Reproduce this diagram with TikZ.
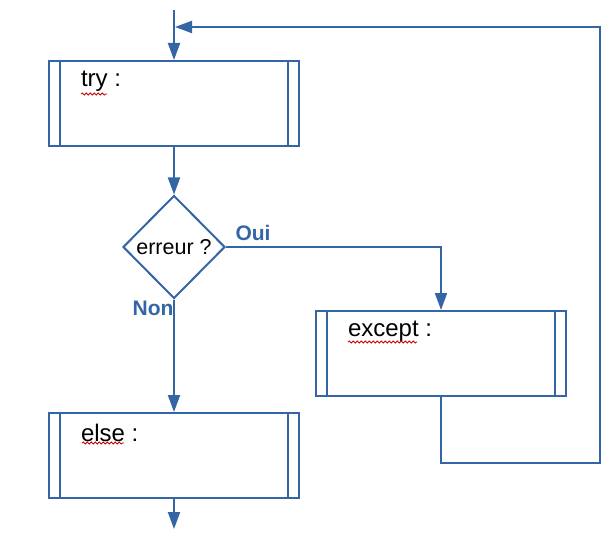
\documentclass[tikz,border=0pt]{standalone}
\usepackage{fontspec}
\setmainfont{Liberation Sans}
\usetikzlibrary{arrows.meta,shapes.geometric,decorations.pathmorphing}
\definecolor{flowblue}{RGB}{52,101,164}

\begin{document}
\begin{tikzpicture}
  [x=1pt,y=-1pt,color=flowblue,line width=2pt,
   >={Triangle[length=17pt,width=12pt]},
   bloc/.style={draw,rectangle,minimum width=250pt,minimum height=85pt,inner sep=0pt},
   test/.style={draw,diamond,aspect=1,minimum width=102pt,minimum height=103pt,inner sep=0pt,
     text=black,font=\fontsize{21.5}{24}\selectfont},
   txt/.style={anchor=west,inner sep=0pt,text=black,font=\fontsize{24}{28}\selectfont},
   rep/.style={inner sep=0pt,font=\bfseries\fontsize{21}{24}\selectfont},
   faute/.style={red!80!black,line width=0.8pt,decorate,
     decoration={snake,amplitude=1pt,segment length=4pt}}]
  \useasboundingbox (0,0) rectangle (611,543);

  \node[bloc] (try) at (174,103.5) {};
  \node[test] (erreur) at (174,247) {erreur ?};
  \node[bloc] (except) at (441,353.5) {};
  \node[bloc] (else) at (174,455.5) {};

  \coordinate (debut) at (174,10);
  \coordinate (fin) at (174,529);
  \coordinate (bas) at (600,463);
  \coordinate (haut) at (600,27);
  \coordinate (entree) at (175,27);

  % double side bars of the process boxes
  \foreach \b in {try,except,else} {
    \draw ([xshift=12pt]\b.north west) -- ([xshift=12pt]\b.south west);
    \draw ([xshift=-12pt]\b.north east) -- ([xshift=-12pt]\b.south east);
  }

  \node[txt] (trytxt) at ([xshift=32pt,yshift=-21pt]try.north west) {try :};
  \node[txt] (excepttxt) at ([xshift=32pt,yshift=-21pt]except.north west) {except :};
  \node[txt] (elsetxt) at ([xshift=32pt,yshift=-21pt]else.north west) {else :};

  \foreach \from/\to in
  {debut/try, try/erreur, erreur/else, else/fin}
    \draw[->] (\from) -- (\to);
  \draw[->] (erreur.east) -| (except.north);
  \draw[->] (except.south) |- (bas) -- (haut) -- (entree);

  \node[rep] (oui) at (253,233) {Oui};
  \node[rep] (non) at (153,308) {Non};

  % spell-check marks
  \draw[faute] (81,94) -- (107,94);
  \draw[faute] (348,342) -- (417,342);
  \draw[faute] (82,443) -- (124,443);
\end{tikzpicture}
\end{document}
